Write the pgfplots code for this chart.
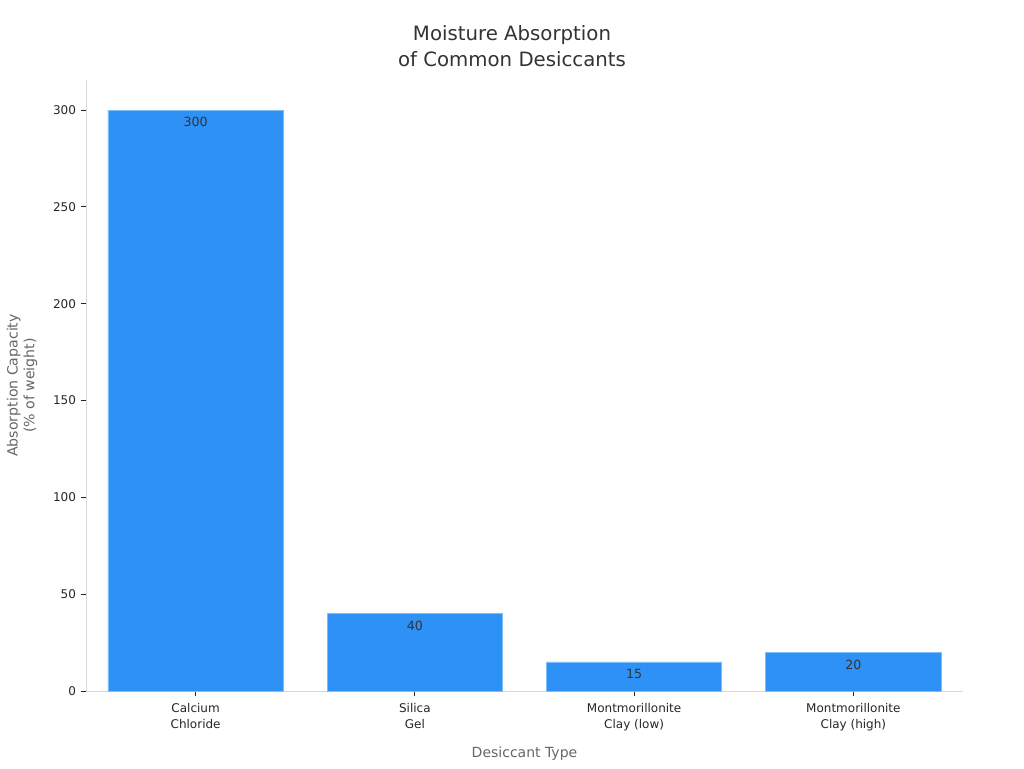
\documentclass[border=0pt]{standalone}
\usepackage{fontspec}
\setmainfont{DejaVu Sans}
\usepackage{pgfplots}
\pgfplotsset{compat=1.18}
\definecolor{barblue}{RGB}{46,145,245}
\definecolor{baredge}{RGB}{125,190,250}
\definecolor{spine}{RGB}{214,214,214}
\definecolor{tickcol}{RGB}{38,38,38}
\definecolor{labcol}{RGB}{102,102,102}
\definecolor{titlecol}{RGB}{51,51,51}

\pgfplotstableread{
x val
0 300
1 40
2 15
3 20
}\desiccants

\begin{document}
\begin{tikzpicture}[x=0.75pt,y=0.75pt]
% page is 1024 x 768 px at 0.75pt per px; axis box from (86,80) to (963,691) px
\path[use as bounding box] (-86,-77) rectangle (938,691);
\begin{axis}[
    at={(0,0)}, anchor=south west,
    scale only axis,
    width=657.75pt, height=458.25pt,
    xmin=-0.5, xmax=3.5,
    ymin=0, ymax=315.5,
    axis x line*=bottom,
    axis y line*=left,
    axis line style={spine, line width=0.7pt},
    xtick=data,
    xticklabels={{Calcium\\Chloride},{Silica\\Gel},{Montmorillonite\\Clay (low)},{Montmorillonite\\Clay (high)}},
    xticklabel style={align=center, font=\fontsize{9}{12}\selectfont, text=tickcol, yshift=-1.5pt},
    ytick={0,50,100,150,200,250,300},
    yticklabel style={font=\fontsize{9}{11}\selectfont, text=tickcol},
    /pgf/number format/assume math mode=true,
    tick style={tickcol, line width=0.6pt},
    tick align=outside,
    major tick length=4pt,
    xlabel={Desiccant Type},
    ylabel={Absorption Capacity\\(\% of weight)},
    xlabel style={font=\fontsize{10.5}{12}\selectfont, text=labcol, yshift=-5pt},
    ylabel style={font=\fontsize{10.6}{12.5}\selectfont, text=labcol, align=center, yshift=5pt},
    enlargelimits=false,
    clip=false,
]
\addplot[ybar, bar width=0.8, fill=barblue, draw=baredge, line width=0.6pt,
    nodes near coords,
    every node near coord/.append style={anchor=north, yshift=-2pt,
        font=\fontsize{9.5}{11}\selectfont, text=titlecol},
    ] table[x=x, y=val] {\desiccants};
\end{axis}
\node[align=center, font=\fontsize{14.8}{19.5}\selectfont, text=titlecol]
    at (426,645) {Moisture Absorption\\of Common Desiccants};
\end{tikzpicture}
\end{document}
